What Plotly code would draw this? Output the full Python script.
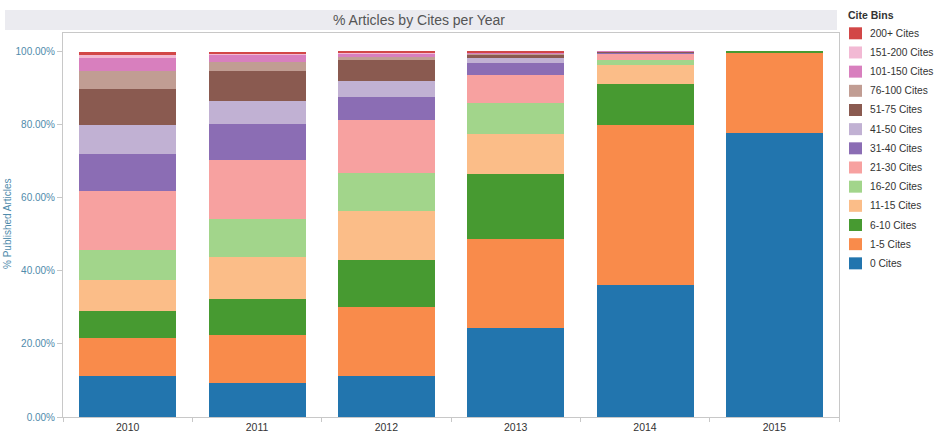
import plotly.graph_objects as go

years = ["2010", "2011", "2012", "2013", "2014", "2015"]

# share of published articles (%) per citation bin, per year
cites_0 = [11.1, 9.4, 11.3, 24.3, 36.2, 77.6]
cites_1_5 = [10.5, 13.1, 18.9, 24.3, 43.7, 22.1]
cites_6_10 = [7.3, 9.7, 12.9, 17.9, 11.2, 0.3]
cites_11_15 = [8.7, 11.6, 13.3, 11.0, 5.3, 0.0]
cites_16_20 = [8.2, 10.5, 10.3, 8.4, 1.3, 0.0]
cites_21_30 = [16.0, 16.0, 14.5, 7.7, 1.9, 0.0]
cites_31_40 = [10.3, 9.8, 6.5, 3.2, 0.15, 0.0]
cites_41_50 = [7.8, 6.3, 4.3, 1.4, 0.1, 0.0]
cites_51_75 = [10.0, 8.4, 5.7, 0.9, 0.1, 0.0]
cites_76_100 = [4.9, 2.5, 0.9, 0.3, 0.05, 0.0]
cites_101_150 = [3.5, 2.0, 0.9, 0.3, 0.05, 0.0]
cites_151_200 = [0.8, 0.3, 0.2, 0.1, 0.0, 0.0]
cites_200_plus = [0.9, 0.4, 0.3, 0.2, 0.0, 0.0]

bin_names = ["0 Cites", "1-5 Cites", "6-10 Cites", "11-15 Cites", "16-20 Cites",
             "21-30 Cites", "31-40 Cites", "41-50 Cites", "51-75 Cites",
             "76-100 Cites", "101-150 Cites", "151-200 Cites", "200+ Cites"]
bin_values = [cites_0, cites_1_5, cites_6_10, cites_11_15, cites_16_20,
              cites_21_30, cites_31_40, cites_41_50, cites_51_75,
              cites_76_100, cites_101_150, cites_151_200, cites_200_plus]
bin_colors = ["#2275ae", "#f98b4b", "#479a31", "#fbbd88", "#a2d58b",
              "#f7a1a0", "#8b6db4", "#c1b1d3", "#8a5a50", "#c19d93",
              "#d87fbe", "#f2b9d4", "#d24747"]

y_ticks = [0, 20, 40, 60, 80, 100]
y_tick_labels = ["0.00%", "20.00%", "40.00%", "60.00%", "80.00%", "100.00%"]

FONT = "Liberation Sans, Arial, Helvetica, sans-serif"
W, H = 937, 434
L, R, T, B = 63, 98, 33, 17
PW, PH = W - L - R, H - T - B


def px(x):
    return (x - L) / PW


def py(y):
    return (H - B - y) / PH


fig = go.Figure()
for name, vals, col in zip(bin_names, bin_values, bin_colors):
    fig.add_trace(go.Bar(
        x=years, y=vals, name=name,
        marker=dict(color=col, line=dict(width=0)),
        showlegend=False,
        hovertemplate="%{x}<br>" + name + ": %{y:.2f}%<extra></extra>",
    ))

shapes = []
annotations = []

# title band
shapes.append(dict(type="rect", xref="paper", yref="paper",
                   x0=px(5), x1=px(837), y0=py(30), y1=py(10),
                   fillcolor="#ebebf0", line=dict(width=0), layer="below"))
annotations.append(dict(xref="paper", yref="paper", x=px(419), y=py(20),
                        text="% Articles by Cites per Year", showarrow=False,
                        xanchor="center", yanchor="middle",
                        font=dict(size=14, color="#555555", family=FONT)))

# y-axis title
annotations.append(dict(xref="paper", yref="paper", x=px(7), y=py(224),
                        text="% Published Articles", showarrow=False, textangle=-90,
                        xanchor="center", yanchor="middle",
                        font=dict(size=10, color="#4f8bab", family=FONT)))

# custom legend
annotations.append(dict(xref="paper", yref="paper", x=px(846), y=py(15.5),
                        text="<b>Cite Bins</b>", showarrow=False,
                        xanchor="left", yanchor="middle",
                        font=dict(size=10.5, color="#333333", family=FONT)))
for i, (name, col) in enumerate(zip(bin_names[::-1], bin_colors[::-1])):
    cy = 33.3 + 19.17 * i
    shapes.append(dict(type="rect", xref="paper", yref="paper",
                       x0=px(849), x1=px(862), y0=py(cy + 6), y1=py(cy - 6),
                       fillcolor=col, line=dict(width=0)))
    annotations.append(dict(xref="paper", yref="paper", x=px(867.5), y=py(cy),
                            text=name, showarrow=False,
                            xanchor="left", yanchor="middle",
                            font=dict(size=10.2, color="#333333", family=FONT)))

fig.update_layout(
    width=W, height=H,
    margin=dict(l=L, r=R, t=T, b=B, pad=0),
    barmode="stack", bargap=0.25,
    plot_bgcolor="white", paper_bgcolor="white",
    font=dict(family=FONT),
    showlegend=False,
    shapes=shapes, annotations=annotations,
)
fig.update_xaxes(
    type="category", showline=True, linecolor="#c8c8c8", linewidth=1, mirror=True,
    ticks="outside", tickson="boundaries", ticklen=4, tickcolor="#c8c8c8",
    tickfont=dict(size=10.5, color="#333333", family=FONT),
    showgrid=False, automargin=False,
)
fig.update_yaxes(
    range=[0, 105.1], tickvals=y_ticks, ticktext=y_tick_labels,
    showline=True, linecolor="#c8c8c8", linewidth=1, mirror=True,
    ticks="outside", ticklen=5, tickcolor="#c8c8c8",
    tickfont=dict(size=10, color="#4f8bab", family=FONT),
    showgrid=False, zeroline=False, automargin=False,
)

fig.write_html(
    "out.html",
    config={"displayModeBar": False},
    post_script="document.body.style.margin='0';document.body.style.overflow='hidden';",
)
